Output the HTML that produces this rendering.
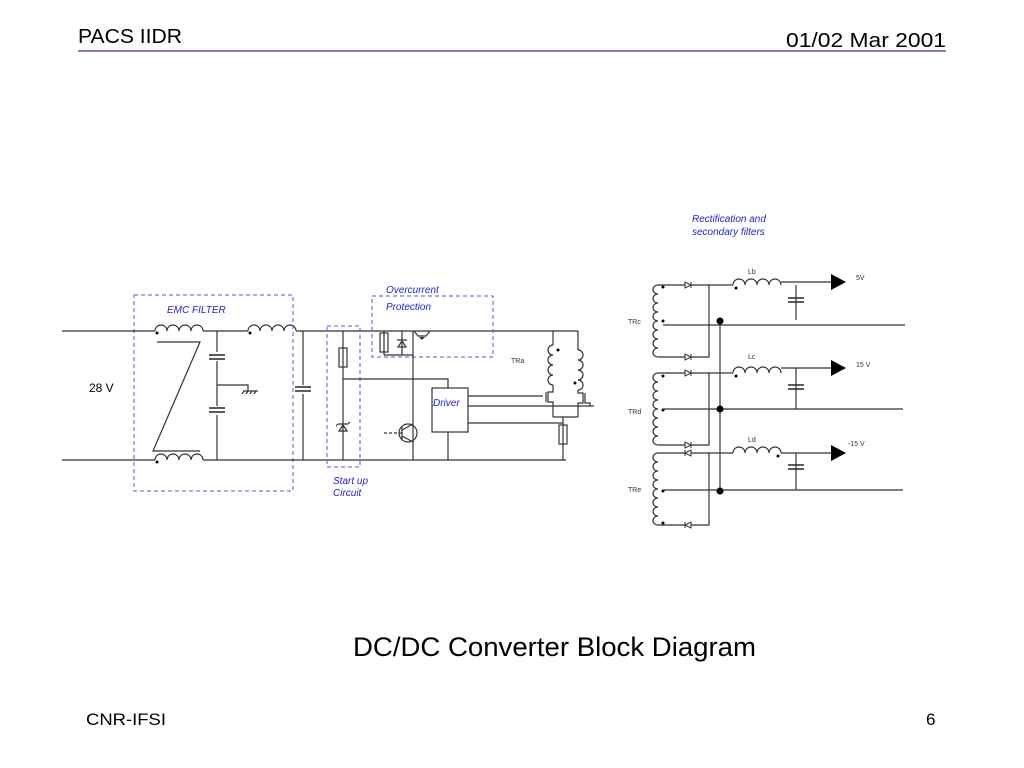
<!DOCTYPE html>
<html><head><meta charset="utf-8"><style>
html,body{margin:0;padding:0;background:#fff;width:1024px;height:768px;overflow:hidden}
svg{display:block}
.w{stroke:#333;stroke-width:1.2;fill:none}
.d{stroke:#5555dd;stroke-width:1;stroke-dasharray:4,3;fill:none}
.b{fill:#2222cc;font-family:"Liberation Sans",sans-serif;font-style:italic;font-size:10px}
.s{fill:#333;font-family:"Liberation Sans",sans-serif;font-size:7px}
.h{fill:#000;font-family:"Liberation Sans",sans-serif}
</style></head><body>
<svg width="1024" height="768" viewBox="0 0 1024 768" xmlns="http://www.w3.org/2000/svg">
<defs>
<path id="ind" d="M0,0 a6,6 0 0 1 12,0 a6,6 0 0 1 12,0 a6,6 0 0 1 12,0 a6,6 0 0 1 12,0" class="w"/>
<path id="vc" d="M0,0 a5,4.5 0 0 0 0,9 a5,4.5 0 0 0 0,9 a5,4.5 0 0 0 0,9 a5,4.5 0 0 0 0,9 a5,4.5 0 0 0 0,9 a5,4.5 0 0 0 0,9 a5,4.5 0 0 0 0,9 a5,4.5 0 0 0 0,9" class="w"/>
<g id="capv"><line x1="-8" y1="-2" x2="8" y2="-2" stroke="#333" stroke-width="1.6"/><line x1="-8" y1="2" x2="8" y2="2" stroke="#333" stroke-width="1.6"/></g>
</defs>
<text x="78" y="43" class="h" font-size="20" textLength="104" lengthAdjust="spacingAndGlyphs">PACS IIDR</text>
<text x="946" y="47" class="h" font-size="20" text-anchor="end" textLength="160" lengthAdjust="spacingAndGlyphs">01/02 Mar 2001</text>
<line x1="78" y1="51" x2="946" y2="51" stroke="#5555aa" stroke-width="1.5"/>
<text x="353" y="656" class="h" font-size="27" textLength="403" lengthAdjust="spacingAndGlyphs">DC/DC Converter Block Diagram</text>
<text x="86" y="725" class="h" font-size="17" textLength="80" lengthAdjust="spacingAndGlyphs">CNR-IFSI</text>
<text x="926" y="725" class="h" font-size="17">6</text>

<!-- EMC -->
<rect x="134" y="295" width="159" height="196" class="d"/>
<text x="167" y="313" class="b">EMC FILTER</text>
<text x="89" y="392" class="h" font-size="12">28 V</text>
<line x1="62" y1="331" x2="155" y2="331" class="w"/>
<use href="#ind" x="155" y="331"/>
<circle cx="157" cy="333" r="1.5" fill="#000"/>
<line x1="203" y1="331" x2="248" y2="331" class="w"/>
<use href="#ind" x="248" y="331"/>
<circle cx="250" cy="333" r="1.5" fill="#000"/>
<line x1="296" y1="331" x2="578" y2="331" class="w"/>
<line x1="62" y1="460" x2="155" y2="460" class="w"/>
<use href="#ind" x="155" y="460"/>
<circle cx="157" cy="462" r="1.5" fill="#000"/>
<line x1="203" y1="460" x2="566" y2="460" class="w"/>
<polyline points="157,342 200,342 153,451 200,451" class="w"/>
<line x1="217" y1="331" x2="217" y2="460" class="w"/>
<rect x="209" y="352" width="16" height="9" fill="#fff"/><use href="#capv" x="217" y="357"/>
<rect x="209" y="406" width="16" height="9" fill="#fff"/><use href="#capv" x="217" y="410"/>
<polyline points="217,385 248,385 248,391" class="w"/>
<line x1="243" y1="391" x2="258" y2="391" class="w"/>
<path d="M244,391 l-2,3 M248,391 l-2,3 M252,391 l-2,3 M256,391 l-2,3" class="w" stroke-width="0.8"/>
<line x1="303" y1="331" x2="303" y2="460" class="w"/>
<rect x="295" y="385" width="16" height="9" fill="#fff"/><use href="#capv" x="303" y="389"/>

<!-- Startup -->
<rect x="327" y="326" width="33" height="141" class="d"/>
<text x="333" y="484" class="b">Start up</text>
<text x="333" y="496" class="b">Circuit</text>
<line x1="343" y1="331" x2="343" y2="460" class="w"/>
<rect x="339" y="348" width="8" height="19" fill="#fff" class="w"/>
<polyline points="343,379 448,379 448,388" class="w"/>
<path d="M339,431 L347,431 L343,425 Z M338,424 L348,424 M338,424 l-2,2 M348,424 l2,-2" fill="#fff" class="w"/>

<!-- Overcurrent -->
<rect x="372" y="296" width="121" height="61" class="d"/>
<text x="386" y="293" class="b">Overcurrent</text>
<text x="386" y="310" class="b">Protection</text>
<line x1="384" y1="331" x2="384" y2="355" class="w"/>
<rect x="380" y="333" width="8" height="19" fill="#fff" class="w"/>
<line x1="402" y1="331" x2="402" y2="355" class="w"/>
<path d="M398,347 L406,347 L402,341 Z M397,340 L407,340" fill="#fff" class="w"/>
<line x1="384" y1="355" x2="413" y2="355" class="w"/>
<line x1="413" y1="331" x2="413" y2="460" class="w"/>
<path d="M414,331 L418,336 L426,336 L430,331" class="w"/>
<path d="M419,337 L425,337 L422,340 Z" fill="#333"/>
<circle cx="408" cy="433" r="9" class="w"/>
<line x1="402" y1="427" x2="402" y2="439" class="w"/>
<line x1="384" y1="433" x2="402" y2="433" class="w" stroke-dasharray="3,2"/>
<path d="M402,430 L413,424 M402,436 L413,442" class="w"/>

<!-- Driver -->
<rect x="432" y="388" width="36" height="44" fill="#fff" class="w"/>
<text x="433" y="406" class="b" font-size="11">Driver</text>
<line x1="448" y1="432" x2="448" y2="460" class="w"/>
<line x1="468" y1="396" x2="543" y2="396" class="w"/>
<line x1="468" y1="406" x2="594" y2="406" class="w"/>
<line x1="468" y1="423" x2="563" y2="423" class="w"/>

<!-- TRa -->
<text x="511" y="363" class="s">TRa</text>
<line x1="553" y1="331" x2="553" y2="345" class="w"/>
<line x1="578" y1="331" x2="578" y2="350" class="w"/>
<path d="M553,345 a5,5 0 0 0 0,10 a5,5 0 0 0 0,10 a5,5 0 0 0 0,10 a5,5 0 0 0 0,10" class="w"/>
<path d="M578,350 a5,5 0 0 1 0,10 a5,5 0 0 1 0,10 a5,5 0 0 1 0,10 a5,5 0 0 1 0,10" class="w"/>
<circle cx="558" cy="350" r="1.5" fill="#000"/><circle cx="575" cy="383" r="1.5" fill="#000"/>
<path d="M553,385 L553,392 L548,392 L548,402 L553,402 L553,417 M546,392 L546,402" class="w"/>
<path d="M578,390 L578,393 L583,393 L583,403 L578,403 L578,417 M585,393 L585,403 L590,403 L590,406" class="w"/>
<line x1="553" y1="417" x2="578" y2="417" class="w"/>
<line x1="563" y1="417" x2="563" y2="460" class="w"/>
<rect x="559" y="425" width="8" height="19" fill="#fff" class="w"/>

<!-- Rectification -->
<text x="692" y="222" class="b">Rectification and</text>
<text x="692" y="235" class="b">secondary filters</text>
<text x="628" y="324" class="s">TRc</text>
<text x="628" y="414" class="s">TRd</text>
<text x="628" y="492" class="s">TRe</text>
<use href="#vc" x="658" y="285"/>
<use href="#vc" x="658" y="373"/>
<use href="#vc" x="658" y="453"/>
<g fill="#000"><circle cx="663" cy="287" r="1.5"/><circle cx="663" cy="321" r="1.5"/><circle cx="663" cy="376" r="1.5"/><circle cx="663" cy="410" r="1.5"/><circle cx="663" cy="491" r="1.5"/><circle cx="663" cy="523" r="1.5"/></g>
<polyline points="658,285 709,285 709,357 658,357" class="w"/>
<polyline points="658,373 709,373 709,445 658,445" class="w"/>
<polyline points="658,453 709,453 709,525 658,525" class="w"/>
<g fill="#fff" stroke="#333" stroke-width="1">
<path d="M685,282 L685,288 L691,285 Z M691,282 L691,288"/>
<path d="M685,354 L685,360 L691,357 Z M691,354 L691,360"/>
<path d="M685,370 L685,376 L691,373 Z M691,370 L691,376"/>
<path d="M685,442 L685,448 L691,445 Z M691,442 L691,448"/>
<path d="M691,450 L691,456 L685,453 Z M685,450 L685,456"/>
<path d="M691,522 L691,528 L685,525 Z M685,522 L685,528"/>
</g>
<line x1="663" y1="325" x2="905" y2="325" class="w"/>
<line x1="663" y1="409" x2="903" y2="409" class="w"/>
<line x1="663" y1="490" x2="903" y2="490" class="w"/>
<line x1="720" y1="321" x2="720" y2="492" class="w"/>
<circle cx="720" cy="321" r="3.5" fill="#000"/><circle cx="720" cy="409" r="3.5" fill="#000"/><circle cx="720" cy="491" r="3.5" fill="#000"/>
<line x1="709" y1="285" x2="733" y2="285" class="w"/>
<line x1="709" y1="373" x2="733" y2="373" class="w"/>
<line x1="709" y1="453" x2="733" y2="453" class="w"/>
<use href="#ind" x="733" y="285"/><use href="#ind" x="733" y="373"/><use href="#ind" x="733" y="453"/>
<circle cx="736" cy="288" r="1.5" fill="#000"/><circle cx="736" cy="376" r="1.5" fill="#000"/><circle cx="778" cy="456" r="1.5" fill="#000"/>
<text x="748" y="274" class="s">Lb</text><text x="748" y="359" class="s">Lc</text><text x="748" y="442" class="s">Ld</text>
<line x1="781" y1="282" x2="832" y2="282" class="w"/>
<line x1="781" y1="368" x2="832" y2="368" class="w"/>
<line x1="781" y1="453" x2="832" y2="453" class="w"/>
<path d="M831,274 L846,282 L831,290 Z M831,360 L846,368 L831,376 Z M831,445 L846,453 L831,461 Z" fill="#000"/>
<text x="856" y="280" class="s">5V</text><text x="856" y="367" class="s">15 V</text><text x="848" y="446" class="s">-15 V</text>
<line x1="796" y1="285" x2="796" y2="320" class="w"/>
<use href="#capv" x="796" y="300"/>
<line x1="796" y1="368" x2="796" y2="409" class="w"/>
<use href="#capv" x="796" y="387"/>
<line x1="796" y1="453" x2="796" y2="490" class="w"/>
<use href="#capv" x="796" y="467"/>
</svg>
</body></html>
